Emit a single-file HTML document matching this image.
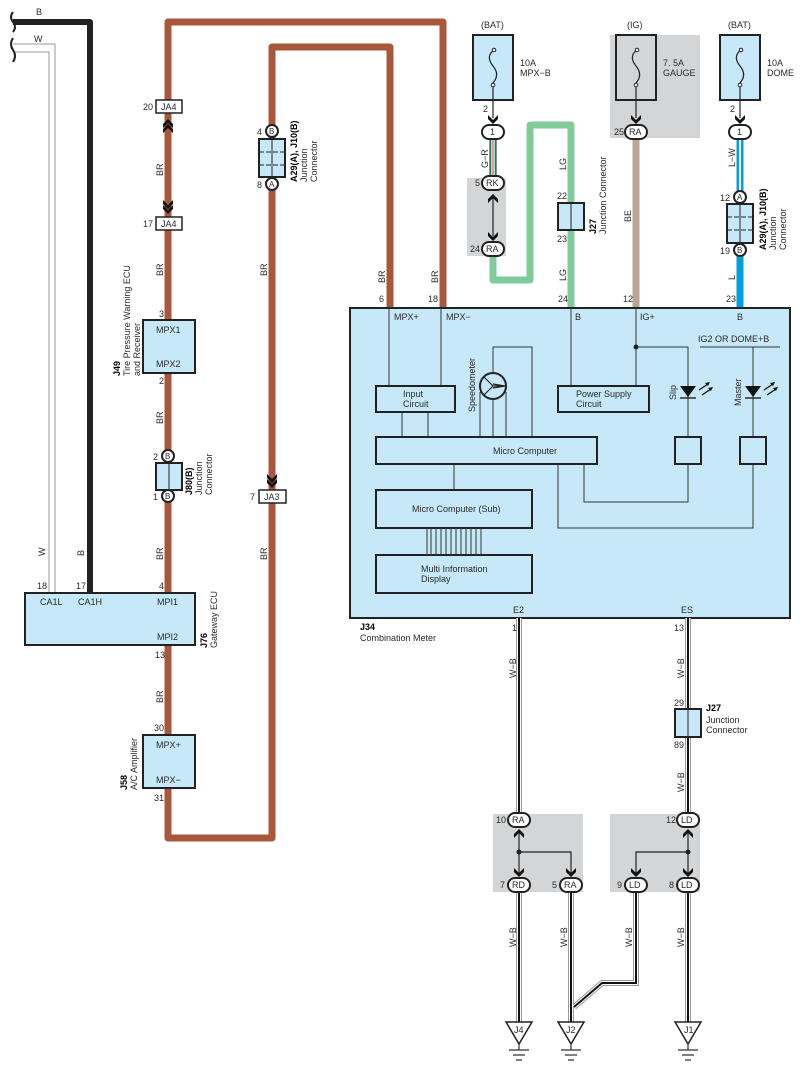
<!DOCTYPE html>
<html><head><meta charset="utf-8"><style>
html,body{margin:0;padding:0;background:#fff}
svg{display:block}
text{font-family:"Liberation Sans",sans-serif;font-size:9px;fill:#2a2a2a}
.b{font-weight:bold;fill:#000}
</style></head><body>
<svg width="803" height="1075" viewBox="0 0 803 1075" xmlns="http://www.w3.org/2000/svg">
<defs>
<g id="chd"><path d="M-5,-6 L0,-1 L5,-6 L5,-2 L0,3 L-5,-2 Z" fill="#111"/></g>
</defs>
<path d="M13,22 H90 V593" fill="none" stroke="#222" stroke-width="6" stroke-linejoin="round"/>
<path d="M13,44 H55 V593" fill="none" stroke="#999" stroke-width="1"/>
<path d="M13,52 H49 V593" fill="none" stroke="#999" stroke-width="1"/>
<path d="M13,12 q-4,5 0,10 q4,5 0,10" fill="none" stroke="#222" stroke-width="2"/>
<path d="M13,38 q-4,6 0,12 q4,6 0,12" fill="none" stroke="#222" stroke-width="2"/>
<text x="36" y="15">B</text><text x="34" y="42">W</text>
<text x="45" y="556" transform="rotate(-90 45 556)">W</text>
<text x="84" y="556" transform="rotate(-90 84 556)">B</text>

<g fill="none" stroke="#a9573a" stroke-width="7" stroke-linejoin="round">
<path d="M443,308 V22 H168 V795"/>
<path d="M390,308 V47 H272 V838 H168 V790"/>
</g>
<rect x="156" y="100" width="26" height="13" fill="#fff" stroke="#222" stroke-width="1.5"/><text x="161" y="110">JA4</text><text x="143" y="110">20</text>
<g transform="translate(168,122) rotate(180)"><use href="#chd"/></g><g transform="translate(168,127) rotate(180)"><use href="#chd"/></g>
<use href="#chd" transform="translate(168,206)"/><use href="#chd" transform="translate(168,211)"/>
<rect x="156" y="217" width="26" height="13" fill="#fff" stroke="#222" stroke-width="1.5"/><text x="161" y="227">JA4</text><text x="143" y="227">17</text>
<g>
<text x="163" y="176" transform="rotate(-90 163 176)">BR</text>
<text x="163" y="276" transform="rotate(-90 163 276)">BR</text>
<text x="163" y="424" transform="rotate(-90 163 424)">BR</text>
<text x="163" y="560" transform="rotate(-90 163 560)">BR</text>
<text x="163" y="703" transform="rotate(-90 163 703)">BR</text>
<text x="267" y="276" transform="rotate(-90 267 276)">BR</text>
<text x="267" y="560" transform="rotate(-90 267 560)">BR</text>
<text x="385" y="283" transform="rotate(-90 385 283)">BR</text>
<text x="438" y="283" transform="rotate(-90 438 283)">BR</text>
</g>
<rect x="143" y="320" width="52" height="53" fill="#c6e8f8" stroke="#222" stroke-width="2"/>
<text x="156" y="333">MPX1</text><text x="156" y="367">MPX2</text>
<text x="159" y="317">3</text><text x="159" y="384">2</text>
<g transform="translate(120,376) rotate(-90)"><text x="0" y="0" class="b">J49</text><text x="0" y="10">Tire Pressure Warning ECU</text><text x="0" y="20">and Receiver</text></g>
<circle cx="168" cy="456" r="6" fill="#fff" stroke="#222" stroke-width="2"/><text x="165" y="459" style="font-size:8px">B</text>
<rect x="156" y="463" width="26" height="27" fill="#c6e8f8" stroke="#222" stroke-width="2"/><line x1="169" y1="463" x2="169" y2="490" stroke="#222"/>
<circle cx="168" cy="496" r="6" fill="#fff" stroke="#222" stroke-width="2"/><text x="165" y="499" style="font-size:8px">B</text>
<text x="153" y="460">2</text><text x="153" y="500">1</text>
<g transform="translate(192,495) rotate(-90)"><text x="0" y="0" class="b">J80(B)</text><text x="0" y="10">Junction</text><text x="0" y="20">Connector</text></g>
<rect x="25" y="593" width="170" height="52" fill="#c6e8f8" stroke="#222" stroke-width="2"/>
<text x="40" y="605">CA1L</text><text x="78" y="605">CA1H</text><text x="157" y="605">MPI1</text><text x="157" y="640">MPI2</text>
<text x="37" y="589">18</text><text x="76" y="589">17</text><text x="159" y="589">4</text><text x="155" y="658">13</text>
<g transform="translate(207,648) rotate(-90)"><text x="0" y="0" class="b">J76</text><text x="0" y="10">Gateway ECU</text></g>
<rect x="143" y="735" width="52" height="53" fill="#c6e8f8" stroke="#222" stroke-width="2"/>
<text x="156" y="748">MPX+</text><text x="156" y="783">MPX−</text>
<text x="154" y="731">30</text><text x="154" y="801">31</text>
<g transform="translate(127,790) rotate(-90)"><text x="0" y="0" class="b">J58</text><text x="0" y="10">A/C Amplifier</text></g>
<circle cx="272" cy="131" r="6" fill="#fff" stroke="#222" stroke-width="2"/><text x="269" y="134" style="font-size:8px">B</text>
<rect x="259" y="139" width="26" height="38" fill="#c6e8f8" stroke="#222" stroke-width="2"/>
<line x1="272" y1="139" x2="272" y2="177" stroke="#222"/><line x1="259" y1="152" x2="285" y2="152" stroke="#222" stroke-dasharray="5,2"/><line x1="259" y1="165" x2="285" y2="165" stroke="#222" stroke-dasharray="5,2"/>
<circle cx="272" cy="184" r="6" fill="#fff" stroke="#222" stroke-width="2"/><text x="269" y="187" style="font-size:8px">A</text>
<text x="257" y="135">4</text><text x="257" y="188">8</text>
<g transform="translate(297,182) rotate(-90)"><text x="0" y="0" class="b">A29(A), J10(B)</text><text x="0" y="10">Junction</text><text x="0" y="20">Connector</text></g>
<use href="#chd" transform="translate(272,480)"/><use href="#chd" transform="translate(272,485)"/>
<rect x="259" y="490" width="27" height="13" fill="#fff" stroke="#222" stroke-width="1.5"/><text x="264" y="500">JA3</text><text x="250" y="500">7</text>

<text x="481" y="28">(BAT)</text><text x="627" y="28">(IG)</text><text x="728" y="28">(BAT)</text>
<rect x="610" y="35" width="90" height="103" fill="#d4d5d6"/>
<rect x="473" y="35" width="40" height="65" fill="#c6e8f8" stroke="#222" stroke-width="2"/>
<rect x="616" y="35" width="40" height="65" fill="#d4d5d6" stroke="#222" stroke-width="2"/>
<rect x="720" y="35" width="40" height="65" fill="#c6e8f8" stroke="#222" stroke-width="2"/>
<g fill="none" stroke="#222" stroke-width="1.2">
<path d="M494,50 c-6,4 -6,10 -1,16 c5,6 5,12 -1,18"/><path d="M637,50 c-6,4 -6,10 -1,16 c5,6 5,12 -1,18"/><path d="M741,50 c-6,4 -6,10 -1,16 c5,6 5,12 -1,18"/>
<line x1="493" y1="85" x2="493" y2="118"/><line x1="636" y1="85" x2="636" y2="118"/><line x1="740" y1="85" x2="740" y2="118"/>
</g>
<g fill="#fff" stroke="#222" stroke-width="1"><circle cx="494" cy="50" r="1.8"/><circle cx="493" cy="85" r="1.8"/><circle cx="637" cy="50" r="1.8"/><circle cx="636" cy="85" r="1.8"/><circle cx="741" cy="50" r="1.8"/><circle cx="740" cy="85" r="1.8"/></g>
<text x="520" y="66">10A</text><text x="520" y="76">MPX−B</text>
<text x="663" y="66">7. 5A</text><text x="663" y="76">GAUGE</text>
<text x="767" y="66">10A</text><text x="767" y="76">DOME</text>
<text x="483" y="112">2</text><text x="730" y="112">2</text>
<use href="#chd" transform="translate(493,121)"/><use href="#chd" transform="translate(636,121)"/><use href="#chd" transform="translate(740,121)"/>
<rect x="467" y="178" width="39" height="78" fill="#d4d5d6"/>
<line x1="493" y1="139" x2="493" y2="178" stroke="#222" stroke-width="7"/>
<line x1="493" y1="139" x2="493" y2="178" stroke="#3c9" stroke-width="5"/>
<line x1="493" y1="139" x2="493" y2="178" stroke="#fff" stroke-width="3"/>
<line x1="493" y1="139" x2="493" y2="178" stroke="#d33" stroke-width="1"/>
<text x="488" y="168" transform="rotate(-90 488 168)">G−R</text>
<path d="M493,256 V280 H530 V125 H571 V308" fill="none" stroke="#7fcc9a" stroke-width="7" stroke-linejoin="round"/>
<line x1="493" y1="196" x2="493" y2="236" stroke="#222" stroke-width="1.2"/>
<g transform="translate(493,197) rotate(180)"><use href="#chd"/></g><use href="#chd" transform="translate(493,238)"/>
<text x="566" y="170" transform="rotate(-90 566 170)">LG</text>
<text x="566" y="281" transform="rotate(-90 566 281)">LG</text>
<rect x="558" y="203" width="26" height="27" fill="#c6e8f8" stroke="#222" stroke-width="2"/><line x1="571" y1="203" x2="571" y2="230" stroke="#222"/>
<text x="557" y="199">22</text><text x="557" y="242">23</text>
<g transform="translate(596,234) rotate(-90)"><text x="0" y="0" class="b">J27</text><text x="0" y="10">Junction Connector</text></g>
<line x1="636" y1="139" x2="636" y2="308" stroke="#b8a595" stroke-width="7"/>
<text x="631" y="222" transform="rotate(-90 631 222)">BE</text>
<line x1="740" y1="139" x2="740" y2="191" stroke="#00a0e0" stroke-width="7"/>
<line x1="740" y1="139" x2="740" y2="191" stroke="#fff" stroke-width="2"/>
<line x1="740" y1="256" x2="740" y2="308" stroke="#00a0e0" stroke-width="7"/>
<text x="735" y="167" transform="rotate(-90 735 167)">L−W</text>
<text x="735" y="280" transform="rotate(-90 735 280)">L</text>
<circle cx="740" cy="197" r="6" fill="#fff" stroke="#222" stroke-width="2"/><text x="737" y="200" style="font-size:8px">A</text>
<rect x="727" y="204" width="26" height="39" fill="#c6e8f8" stroke="#222" stroke-width="2"/>
<line x1="740" y1="204" x2="740" y2="243" stroke="#222"/><line x1="727" y1="217" x2="753" y2="217" stroke="#222" stroke-dasharray="5,2"/><line x1="727" y1="230" x2="753" y2="230" stroke="#222" stroke-dasharray="5,2"/>
<circle cx="740" cy="250" r="6" fill="#fff" stroke="#222" stroke-width="2"/><text x="737" y="253" style="font-size:8px">B</text>
<text x="720" y="201">12</text><text x="720" y="254">19</text>
<g transform="translate(766,250) rotate(-90)"><text x="0" y="0" class="b">A29(A), J10(B)</text><text x="0" y="10">Junction</text><text x="0" y="20">Connector</text></g>
<g fill="#fff" stroke="#222" stroke-width="2">
<rect x="482" y="125" width="22" height="14" rx="7"/><rect x="625" y="125" width="22" height="14" rx="7"/><rect x="729" y="125" width="22" height="14" rx="7"/>
<rect x="482" y="176" width="22" height="14" rx="7"/><rect x="482" y="242" width="22" height="14" rx="7"/>
</g>
<text x="490" y="135">1</text><text x="629" y="135">RA</text><text x="737" y="135">1</text><text x="614" y="135">25</text>
<text x="486" y="186">RK</text><text x="486" y="252">RA</text><text x="475" y="186">5</text><text x="470" y="252">24</text>

<text x="379" y="302">6</text><text x="428" y="302">18</text><text x="558" y="302">24</text><text x="623" y="302">12</text><text x="726" y="302">23</text>
<rect x="350" y="308" width="440" height="310" fill="#c6e8f8" stroke="#222" stroke-width="2"/>
<text x="394" y="320">MPX+</text><text x="446" y="320">MPX−</text><text x="575" y="320">B</text><text x="640" y="320">IG+</text><text x="737" y="320">B</text>
<text x="698" y="342">IG2 OR DOME+B</text>
<g fill="none" stroke="#333" stroke-width="1">
<line x1="389" y1="308" x2="389" y2="386"/><line x1="441" y1="308" x2="441" y2="386"/>
<line x1="571" y1="308" x2="571" y2="386"/><line x1="636" y1="308" x2="636" y2="386"/>
<path d="M636,347 H688 V437"/><path d="M700,347 H780"/><path d="M753,347 V437"/>
<path d="M688,464 V502 H584 V464"/><path d="M753,464 V528 H558 V464"/>
<line x1="402" y1="412" x2="402" y2="437"/><line x1="428" y1="412" x2="428" y2="437"/>
<line x1="480" y1="392" x2="480" y2="437"/><line x1="493" y1="399" x2="493" y2="437"/><line x1="506" y1="392" x2="506" y2="437"/>
<path d="M493,373 V347 H532 V437"/>
<line x1="454" y1="464" x2="454" y2="490"/>
</g>
<circle cx="636" cy="347" r="2.5" fill="#222"/>
<g fill="#c6e8f8" stroke="#222" stroke-width="2">
<rect x="376" y="386" width="79" height="26"/><rect x="558" y="386" width="91" height="26"/>
<rect x="376" y="437" width="221" height="27"/><rect x="376" y="490" width="156" height="38"/><rect x="376" y="555" width="156" height="38"/>
<rect x="675" y="437" width="26" height="27"/><rect x="740" y="437" width="26" height="27"/>
</g>
<g stroke="#333" stroke-width="1"><line x1="427" y1="528" x2="427" y2="555"/><line x1="431" y1="528" x2="431" y2="555"/><line x1="436" y1="528" x2="436" y2="555"/><line x1="441" y1="528" x2="441" y2="555"/><line x1="446" y1="528" x2="446" y2="555"/><line x1="451" y1="528" x2="451" y2="555"/><line x1="456" y1="528" x2="456" y2="555"/><line x1="461" y1="528" x2="461" y2="555"/><line x1="466" y1="528" x2="466" y2="555"/><line x1="471" y1="528" x2="471" y2="555"/><line x1="476" y1="528" x2="476" y2="555"/><line x1="481" y1="528" x2="481" y2="555"/></g>
<circle cx="493" cy="386" r="13" fill="none" stroke="#222" stroke-width="2"/>
<path d="M484,377 L493,386 L484,395 M493,386 L506,386 M493,384 L505,386 L493,388" stroke="#222" stroke-width="1.2" fill="none"/>
<text x="403" y="397">Input</text><text x="403" y="407">Circuit</text>
<text x="576" y="397">Power Supply</text><text x="576" y="407">Circuit</text>
<text x="493" y="454">Micro Computer</text>
<text x="412" y="512">Micro Computer (Sub)</text>
<text x="421" y="572">Multi Information</text><text x="421" y="582">Display</text>
<text x="475" y="412" transform="rotate(-90 475 412)">Speedometer</text>
<text x="676" y="400" transform="rotate(-90 676 400)">Slip</text>
<text x="741" y="406" transform="rotate(-90 741 406)">Master</text>
<g fill="#111"><path d="M680,386 H696 L688,397 Z"/><path d="M745,386 H761 L753,397 Z"/></g>
<g stroke="#111" stroke-width="1.3"><line x1="680" y1="398" x2="696" y2="398"/><line x1="745" y1="398" x2="761" y2="398"/>
<path d="M699,390 L708,384 M702,395 L711,389 M764,390 L773,384 M767,395 L776,389"/></g>
<g fill="#111"><path d="M710,382 l-5,1 l3,3 z"/><path d="M713,387 l-5,1 l3,3 z"/><path d="M775,382 l-5,1 l3,3 z"/><path d="M778,387 l-5,1 l3,3 z"/></g>
<text x="513" y="613">E2</text><text x="681" y="613">ES</text>
<text x="360" y="630" class="b">J34</text><text x="360" y="641">Combination Meter</text>

<g fill="none" stroke-linejoin="miter">
<g stroke="#999" stroke-width="6"><path d="M519,618 V813"/><path d="M688,618 V813"/><path d="M519,892 V1022"/><path d="M571,892 V1022"/><path d="M688,892 V1022"/><path d="M636,892 V983 H602 L574,1007"/></g>
<g stroke="#fff" stroke-width="4"><path d="M519,618 V813"/><path d="M688,618 V813"/><path d="M519,892 V1022"/><path d="M571,892 V1022"/><path d="M688,892 V1022"/><path d="M636,892 V983 H602 L574,1007"/></g>
<g stroke="#111" stroke-width="2"><path d="M519,618 V813"/><path d="M688,618 V813"/><path d="M519,892 V1022"/><path d="M571,892 V1022"/><path d="M688,892 V1022"/><path d="M636,892 V983 H602 L574,1007"/></g>
</g>
<text x="512" y="631">1</text><text x="674" y="631">13</text>
<text x="516" y="678" transform="rotate(-90 516 678)">W−B</text>
<text x="684" y="678" transform="rotate(-90 684 678)">W−B</text>
<text x="684" y="792" transform="rotate(-90 684 792)">W−B</text>
<text x="516" y="947" transform="rotate(-90 516 947)">W−B</text>
<text x="567" y="947" transform="rotate(-90 567 947)">W−B</text>
<text x="632" y="947" transform="rotate(-90 632 947)">W−B</text>
<text x="684" y="947" transform="rotate(-90 684 947)">W−B</text>
<rect x="675" y="709" width="26" height="28" fill="#c6e8f8" stroke="#222" stroke-width="2"/><line x1="688" y1="709" x2="688" y2="737" stroke="#222"/>
<text x="674" y="706">29</text><text x="674" y="748">89</text>
<text x="706" y="711" class="b">J27</text><text x="706" y="723">Junction</text><text x="706" y="733">Connector</text>
<rect x="493" y="814" width="90" height="78" fill="#d4d5d6"/><rect x="610" y="814" width="90" height="78" fill="#d4d5d6"/>
<g stroke="#222" stroke-width="1.2" fill="none"><path d="M519,830 V875"/><path d="M519,852 H571 V875"/><path d="M688,830 V875"/><path d="M688,852 H636 V875"/></g>
<circle cx="519" cy="852" r="2.5" fill="#222"/><circle cx="688" cy="852" r="2.5" fill="#222"/>
<g transform="translate(519,832) rotate(180)"><use href="#chd"/></g><g transform="translate(688,832) rotate(180)"><use href="#chd"/></g>
<use href="#chd" transform="translate(519,874)"/><use href="#chd" transform="translate(571,874)"/><use href="#chd" transform="translate(636,874)"/><use href="#chd" transform="translate(688,874)"/>
<g fill="#fff" stroke="#222" stroke-width="2">
<rect x="508" y="813" width="22" height="14" rx="7"/><rect x="677" y="813" width="22" height="14" rx="7"/>
<rect x="508" y="878" width="22" height="14" rx="7"/><rect x="560" y="878" width="22" height="14" rx="7"/><rect x="625" y="878" width="22" height="14" rx="7"/><rect x="677" y="878" width="22" height="14" rx="7"/>
</g>
<text x="512" y="823">RA</text><text x="681" y="823">LD</text><text x="512" y="888">RD</text><text x="564" y="888">RA</text><text x="629" y="888">LD</text><text x="681" y="888">LD</text>
<text x="496" y="823">10</text><text x="666" y="823">12</text><text x="500" y="888">7</text><text x="552" y="888">5</text><text x="617" y="888">9</text><text x="669" y="888">8</text>
<g fill="#fff" stroke="#222" stroke-width="1.5">
<path d="M506,1022 H532 L519,1044 Z"/><path d="M558,1022 H584 L571,1044 Z"/><path d="M675,1022 H701 L688,1044 Z"/>
</g>
<text x="514" y="1033">J4</text><text x="566" y="1033">J2</text><text x="684" y="1033">J1</text>
<g stroke="#333" stroke-width="1.2">
<path d="M519,1044 V1050 M509,1050 H529 M513,1055 H525 M516,1060 H522"/>
<path d="M571,1044 V1050 M561,1050 H581 M565,1055 H577 M568,1060 H574"/>
<path d="M688,1044 V1050 M678,1050 H698 M682,1055 H694 M685,1060 H691"/>
</g>
</svg>
</body></html>
